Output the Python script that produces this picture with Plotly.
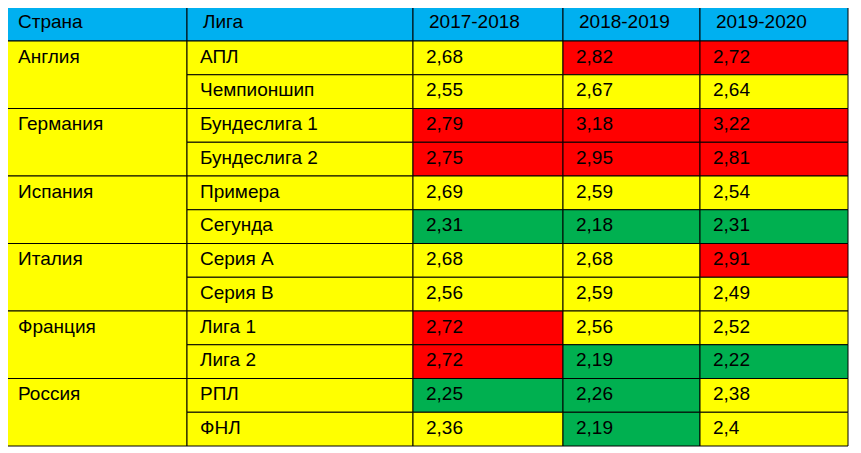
import plotly.graph_objects as go

header = ["Страна", "Лига", "2017-2018", "2018-2019", "2019-2020"]
countries = ["Англия", "Германия", "Испания", "Италия", "Франция", "Россия"]
leagues = ["АПЛ", "Чемпионшип", "Бундеслига 1", "Бундеслига 2", "Примера", "Сегунда",
           "Серия А", "Серия В", "Лига 1", "Лига 2", "РПЛ", "ФНЛ"]
v2017 = ["2,68", "2,55", "2,79", "2,75", "2,69", "2,31", "2,68", "2,56", "2,72", "2,72", "2,25", "2,36"]
v2018 = ["2,82", "2,67", "3,18", "2,95", "2,59", "2,18", "2,68", "2,59", "2,56", "2,19", "2,26", "2,19"]
v2019 = ["2,72", "2,64", "3,22", "2,81", "2,54", "2,31", "2,91", "2,49", "2,52", "2,22", "2,38", "2,4"]
c2017 = ["Y", "Y", "R", "R", "Y", "G", "Y", "Y", "R", "R", "G", "Y"]
c2018 = ["R", "Y", "R", "R", "Y", "G", "Y", "Y", "Y", "G", "G", "G"]
c2019 = ["R", "Y", "R", "R", "Y", "G", "R", "Y", "Y", "G", "Y", "Y"]

COL = {"Y": "#FFFF00", "R": "#FF0000", "G": "#00B050"}
HEAD = "#00B0F0"
xs = [2, 187, 413, 563, 700, 848]
y_top, y_head = 5, 41
rh = (446 - y_head) / 12
FONT = dict(family="Liberation Sans, Arial", size=19, color="black")

fig = go.Figure()
shapes = []
def rect(x0, x1, y0, y1, fill):
    shapes.append(dict(type="rect", xref="x", yref="y", x0=x0, x1=x1, y0=y0, y1=y1,
                       fillcolor=fill, line=dict(color="black", width=1), layer="below"))

for j in range(5):
    rect(xs[j], xs[j+1], y_top, y_head, HEAD)
for k in range(len(countries)):
    rect(xs[0], xs[1], y_head + 2*k*rh, y_head + (2*k+2)*rh, COL["Y"])
for i in range(12):
    y0 = y_head + i*rh
    rect(xs[1], xs[2], y0, y0+rh, COL["Y"])
    for j, cs in enumerate([c2017, c2018, c2019]):
        rect(xs[j+2], xs[j+3], y0, y0+rh, COL[cs[i]])

tx, ty, tt = [], [], []
for j, h in enumerate(header):
    tx.append(xs[j] + 16); ty.append((y_top + y_head) / 2); tt.append(h)
for k, c in enumerate(countries):
    tx.append(xs[0] + 16); ty.append(y_head + 2*k*rh + rh/2); tt.append(c)
for i in range(12):
    yc = y_head + i*rh + rh/2
    for j, vals in enumerate([leagues, v2017, v2018, v2019]):
        tx.append(xs[j+1] + 13); ty.append(yc); tt.append(vals[i])

fig.add_trace(go.Scatter(x=tx, y=ty, text=tt, mode="text", textposition="middle right",
                         textfont=FONT, hoverinfo="skip", showlegend=False))
fig.update_layout(width=861, height=453, margin=dict(l=0, r=0, t=0, b=0),
                  paper_bgcolor="white", plot_bgcolor="white", shapes=shapes,
                  xaxis=dict(range=[8, 869], visible=False, fixedrange=True),
                  yaxis=dict(range=[461, 8], visible=False, fixedrange=True))
fig.write_html("out.html")
